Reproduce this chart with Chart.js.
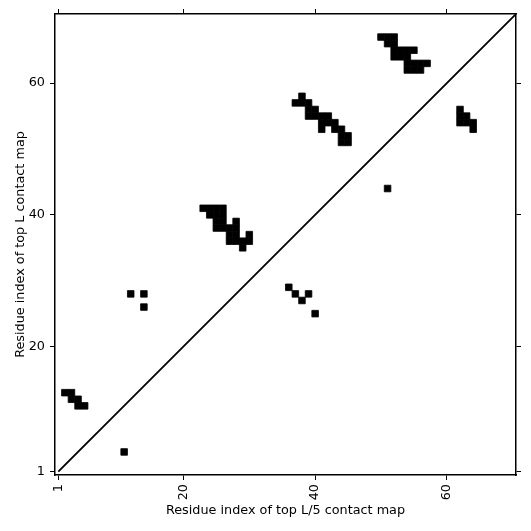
<!DOCTYPE html>
<html>
<head>
<meta charset="utf-8">
<script src="https://cdn.jsdelivr.net/npm/chart.js@4.4.0/dist/chart.umd.min.js"></script>
<style>
  body { margin: 0; background: #fff; }
  canvas { display: block; }
</style>
</head>
<body>
<canvas id="myChart" width="531" height="531"></canvas>
<script>
// contacts above the diagonal: top L contact map [i, j]
const topLContacts = [
    [2, 13], [3, 13], [3, 12], [4, 12], [4, 11], [5, 11],
    [12, 28], [14, 28], [14, 26],
    [23, 41], [24, 41], [25, 41], [26, 41], [24, 40], [25, 40], [26, 40],
    [25, 39], [26, 39], [28, 39], [25, 38], [26, 38], [27, 38], [28, 38],
    [27, 37], [28, 37], [30, 37], [27, 36], [28, 36], [29, 36], [30, 36], [29, 35],
    [38, 58], [37, 57], [38, 57], [39, 57], [39, 56], [40, 56],
    [39, 55], [40, 55], [41, 55], [42, 55], [41, 54], [42, 54], [43, 54],
    [41, 53], [43, 53], [44, 53], [44, 52], [45, 52], [44, 51], [45, 51],
    [50, 67], [51, 67], [52, 67], [51, 66], [52, 66],
    [52, 65], [53, 65], [54, 65], [55, 65], [52, 64], [53, 64], [54, 64],
    [54, 63], [55, 63], [56, 63], [57, 63], [54, 62], [55, 62], [56, 62]
];

// contacts below the diagonal: top L/5 contact map [i, j]
const topL5Contacts = [
    [11, 4], [36, 29], [37, 28], [38, 27], [39, 28], [40, 25], [51, 44],
    [62, 54], [62, 55], [62, 56], [63, 54], [63, 55], [64, 53], [64, 54]
];

const tickValues = [1, 20, 40, 60];
const axisMin = 0.5;
const axisMax = 70.5;

const FONT = { family: 'DejaVu Sans', size: 12.8 };

// square cell size taken from the scale (one residue wide)
function cellRadius(context) {
    const xs = context.chart.scales.x;
    if (!xs) return 4;
    const w = Math.abs(xs.getPixelForValue(1) - xs.getPixelForValue(0));
    return w / Math.SQRT2;
}

function fixedTicks(scale) {
    scale.ticks = tickValues.map(v => ({ value: v }));
}

function axis(position, size, extra) {
    return Object.assign({
        type: 'linear',
        position: position,
        min: axisMin,
        max: axisMax,
        afterBuildTicks: fixedTicks,
        afterFit: function(scale) {
            if (scale.isHorizontal()) scale.height = size;
            else scale.width = size;
        },
        border: { display: true, color: '#000', width: 1.5 },
        grid: {
            drawOnChartArea: false,
            drawTicks: true,
            tickLength: 5,
            tickColor: '#000',
            tickWidth: 1
        },
        ticks: { display: false }
    }, extra);
}

const ctx = document.getElementById('myChart').getContext('2d');

const myChart = new Chart(ctx, {
    type: 'scatter',
    data: {
        datasets: [
            {
                label: 'top L',
                data: topLContacts.map(p => ({ x: p[0], y: p[1] })),
                pointStyle: 'rect',
                pointRadius: cellRadius,
                backgroundColor: '#000',
                borderColor: '#000',
                borderWidth: 0.8
            },
            {
                label: 'top L/5',
                data: topL5Contacts.map(p => ({ x: p[0], y: p[1] })),
                pointStyle: 'rect',
                pointRadius: cellRadius,
                backgroundColor: '#000',
                borderColor: '#000',
                borderWidth: 0.8
            },
            {
                label: 'diagonal',
                type: 'line',
                data: [{ x: 1, y: 1 }, { x: 71, y: 71 }],
                borderColor: '#000',
                borderWidth: 1.8,
                pointRadius: 0,
                fill: false
            }
        ]
    },
    options: {
        responsive: false,
        animation: false,
        events: [],
        layout: { padding: 0 },
        plugins: {
            legend: { display: false },
            tooltip: { enabled: false }
        },
        scales: {
            x: axis('bottom', 56, {
                ticks: {
                    display: true,
                    color: '#000',
                    font: FONT,
                    padding: 4,
                    minRotation: 90,
                    maxRotation: 90,
                    autoSkip: false
                },
                title: {
                    display: true,
                    text: 'Residue index of top L/5 contact map',
                    color: '#000',
                    font: FONT,
                    padding: { top: 0, bottom: 13 }
                }
            }),
            x2: axis('top', 14),
            y: axis('left', 55, {
                ticks: {
                    display: true,
                    color: '#000',
                    font: FONT,
                    padding: 5,
                    autoSkip: false
                },
                title: {
                    display: true,
                    text: 'Residue index of top L contact map',
                    color: '#000',
                    font: FONT,
                    padding: { top: 13, bottom: 0 }
                }
            }),
            y2: axis('right', 15)
        }
    }
});
</script>
</body>
</html>
